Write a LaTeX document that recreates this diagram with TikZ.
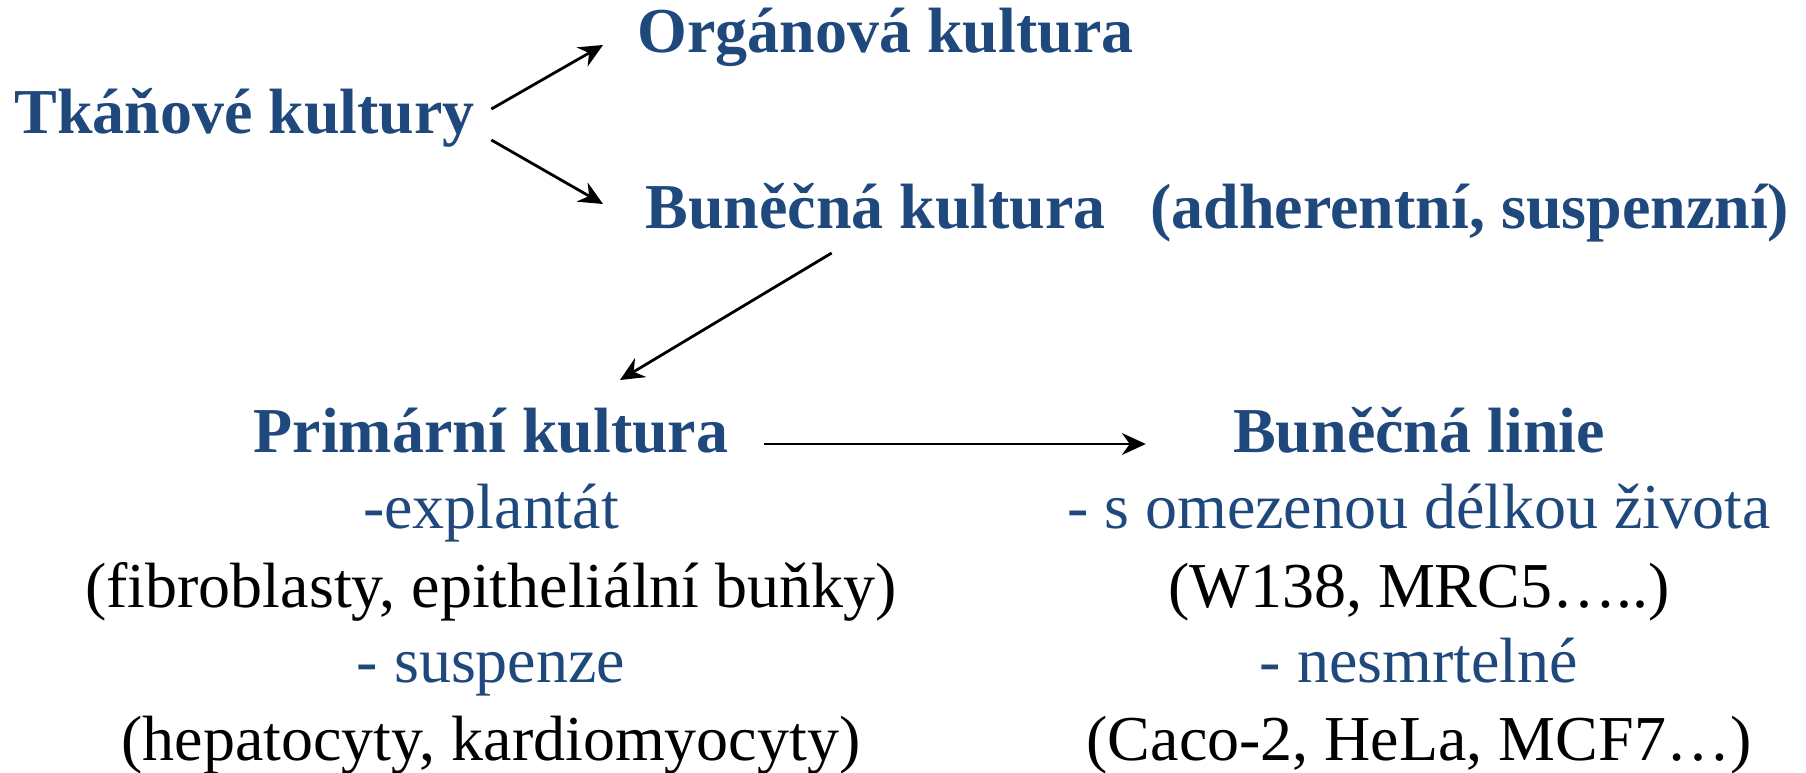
\documentclass[tikz,border=0pt]{standalone}
\usepackage{fontspec}
\setmainfont{Liberation Serif}
\usetikzlibrary{arrows.meta}

\definecolor{kblue}{RGB}{31,73,125}

\tikzset{
  titul/.style={font=\bfseries\fontsize{32}{38}\selectfont, text=kblue, inner sep=0pt},
  druh/.style={font=\fontsize{32}{38}\selectfont, text=kblue, inner sep=0pt},
  priklad/.style={font=\fontsize{32}{38}\selectfont, text=black, inner sep=0pt},
  sipka/.style={line width=1.4pt, -{Stealth[length=12pt,width=11pt,inset=4pt]}}
}

\begin{document}
\begin{tikzpicture}[x=0.5pt,y=-0.5pt]
%set diagram size to the page
\useasboundingbox (0,0) rectangle (1806,772);

% Text Node
\node [titul, anchor=base west] (tkan) at (14,133) {Tkáňové kultury};
% Text Node
\node [titul, anchor=base west] (organ) at (637,52) {Orgánová kultura};
% Text Node
\node [titul, anchor=base west] (bunk) at (645,228) {Buněčná kultura};
% Text Node
\node [titul, anchor=base west] (adh) at (1150,228) {(adherentní, suspenzní)};

% Text Node
\node [titul, anchor=base] (prim) at (491,452) {Primární kultura};
% Text Node
\node [druh, anchor=base] (expl) at (491,528) {-explantát};
% Text Node
\node [priklad, anchor=base] (fibr) at (491,607) {(fibroblasty, epitheliální buňky)};
% Text Node
\node [druh, anchor=base] (susp) at (491,682) {- suspenze};
% Text Node
\node [priklad, anchor=base] (hepa) at (491,760) {(hepatocyty, kardiomyocyty)};

% Text Node
\node [titul, anchor=base] (linie) at (1419,452) {Buněčná linie};
% Text Node
\node [druh, anchor=base] (omez) at (1419,528) {- s omezenou délkou života};
% Text Node
\node [priklad, anchor=base] (wi) at (1419,607) {(W138, MRC5…..)};
% Text Node
\node [druh, anchor=base] (nesm) at (1419,682) {- nesmrtelné};
% Text Node
\node [priklad, anchor=base] (caco) at (1419,760) {(Caco-2, HeLa, MCF7…)};

%Arrows
\draw [sipka] ([shift={(16,-24)}]tkan.base east) -- ([shift={(-34,-7)}]organ.base west);
\draw [sipka] ([shift={(16,7)}]tkan.base east) -- ([shift={(-42,-24)}]bunk.base west);
\draw [sipka] ([shift={(-44,25)}]bunk.base) -- ([shift={(129,-72)}]prim.base);
\draw [sipka] ([shift={(35,-8)}]prim.base east) -- ([shift={(-87,-8)}]linie.base west);
\end{tikzpicture}
\end{document}
